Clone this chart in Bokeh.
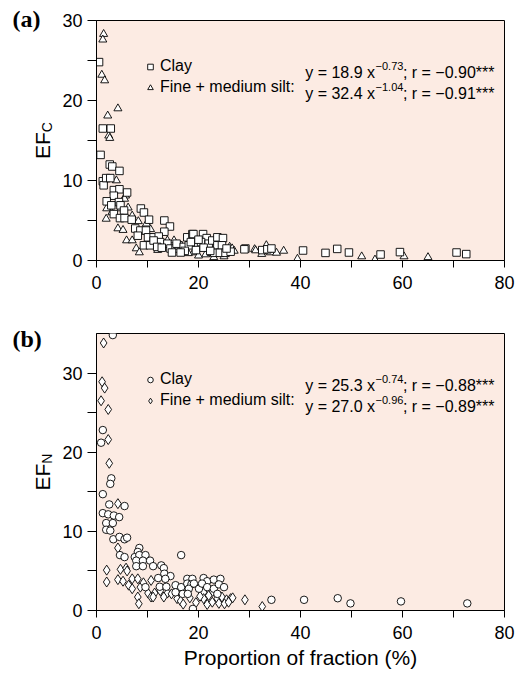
import math
from bokeh.plotting import figure
from bokeh.models import Range1d, FixedTicker, Label, Legend, LegendItem
from bokeh.layouts import column, row
from bokeh.embed import file_html
from bokeh.resources import INLINE

# ---------------- data ----------------
# Panel (a): EF_C vs proportion of fraction
a_clay_x = [0.5, 1.24, 2.8, 0.8, 2.6, 3.1, 4.5, 1.24, 1.4, 1.9, 2.7, 3.4, 4.5, 3.4, 6.0, 2.0, 4.4, 2.9, 4.7, 5.4,
            3.4, 4.6, 5.5, 6.9, 8.7, 9.3, 10.3, 7.6, 8.6, 9.7, 8.1, 10.1, 11.2, 13.3, 14.4, 13.3, 12.2, 12.5, 9.3, 10.5,
            11.2, 11.9, 13.9, 14.5, 15.5, 16.1, 15.7, 17.8, 18.8, 17.1, 18.1, 17.3, 19.0, 19.9, 20.9, 21.6, 20.5, 22.0, 22.7, 23.7,
            24.8, 23.7, 24.6, 23.1, 24.2, 25.3, 26.3, 29.2, 29.0, 32.5, 33.5, 34.3, 40.5, 44.9, 47.2, 49.5, 55.7, 59.5, 70.6, 72.5,
            19.5, 21.0, 16.5, 18.5, 25.5, 22.3, 20.0, 14.8, 12.8]
a_clay_y = [24.8, 16.5, 16.5, 13.2, 12.0, 11.75, 11.2, 9.9, 9.4, 10.3, 10.3, 8.8, 8.9, 8.1, 8.5, 7.4, 7.3, 6.9, 6.9, 6.25,
            5.8, 5.3, 5.3, 5.1, 6.5, 6.0, 5.1, 4.0, 3.75, 3.75, 3.1, 2.9, 2.9, 5.0, 4.25, 3.6, 3.0, 2.3, 1.9, 1.9,
            2.5, 1.7, 2.1, 1.5, 1.5, 1.9, 2.1, 2.9, 3.3, 1.7, 1.9, 1.2, 3.3, 1.9, 3.3, 2.8, 2.3, 2.1, 2.5, 2.9,
            2.8, 1.9, 1.9, 0.96, 0.96, 0.96, 1.1, 1.5, 1.4, 1.3, 1.4, 1.5, 1.25, 0.95, 1.45, 1.0, 0.75, 1.05, 1.0, 0.8,
            1.3, 1.6, 1.0, 2.3, 1.5, 1.2, 2.6, 1.0, 1.6]
a_silt_x = [1.4, 1.24, 1.04, 1.6, 4.2, 2.2, 2.4, 2.6, 3.9, 5.7, 5.5, 2.0, 1.9, 7.0, 8.2, 4.2, 5.2, 10.6, 5.9, 7.0,
            7.8, 8.4, 13.9, 15.2, 21.4, 22.5, 26.1, 26.6, 31.0, 31.2, 33.3, 32.4, 34.1, 35.3, 36.7, 39.4, 52.0, 54.6, 60.3, 65.0,
            4.8, 6.2, 3.0, 9.8, 11.5, 12.0, 16.8, 19.0, 20.0, 24.0, 25.0, 23.0, 27.0, 18.0]
a_silt_y = [28.3, 27.6, 23.2, 22.5, 19.0, 18.1, 15.6, 15.3, 10.0, 8.1, 7.7, 6.5, 5.2, 5.6, 4.9, 4.0, 3.8, 3.9, 2.5, 2.5,
            1.5, 1.0, 2.5, 2.5, 0.75, 0.9, 1.7, 1.5, 1.4, 1.25, 1.9, 0.8, 1.0, 0.95, 1.2, 0.2, 0.5, 0.1, 0.5, 0.4,
            6.5, 6.6, 6.0, 4.6, 2.1, 1.3, 1.3, 1.0, 0.6, 1.3, 0.5, 0.4, 1.2, 0.9]

# Panel (b): EF_N vs proportion of fraction
b_clay_x = [3.2, 1.24, 0.9, 2.9, 2.7, 1.24, 2.5, 5.5, 1.24, 2.3, 3.4, 4.45, 1.9, 3.2, 1.9, 2.7, 3.3, 4.5, 5.5, 6.0,
            4.6, 5.5, 8.4, 8.1, 7.5, 8.4, 9.6, 7.8, 9.1, 10.5, 11.1, 7.8, 9.1, 9.6, 12.1, 12.7, 13.2, 13.3, 14.5, 13.5,
            12.4, 13.7, 15.5, 15.5, 16.6, 16.6, 16.9, 17.8, 18.8, 17.8, 18.6, 18.1, 17.9, 18.9, 19.1, 20.1, 21.0, 21.7, 20.7, 21.7,
            23.0, 24.3, 23.0, 24.0, 25.0, 23.7, 34.3, 40.7, 47.3, 49.8, 59.7, 72.7]
b_clay_y = [34.8, 22.8, 21.2, 16.7, 16.0, 14.7, 13.4, 13.2, 12.3, 12.15, 12.0, 11.8, 11.05, 11.05, 10.2, 10.1, 9.0, 9.3, 9.0, 9.2,
            7.0, 6.75, 7.9, 7.4, 6.75, 7.0, 7.0, 6.3, 6.3, 6.3, 5.6, 5.6, 5.6, 2.95, 4.1, 5.7, 5.35, 4.65, 4.35, 4.0,
            3.0, 3.0, 3.2, 2.3, 7.0, 2.95, 2.1, 4.0, 4.0, 3.4, 3.3, 2.75, 2.1, 0.2, 3.4, 2.75, 4.1, 3.7, 3.4, 2.95,
            3.9, 4.0, 2.75, 3.3, 2.95, 2.1, 1.35, 1.35, 1.55, 0.9, 1.15, 0.9]
b_silt_x = [1.4, 1.1, 1.6, 0.9, 2.3, 2.3, 2.5, 4.2, 4.2, 2.0, 4.7, 5.8, 2.0, 4.2, 5.2, 7.0, 6.3, 7.0, 8.1, 8.6,
            9.2, 8.1, 8.3, 10.1, 10.7, 10.7, 11.4, 11.1, 12.5, 13.9, 13.2, 14.7, 15.8, 18.3, 21.0, 22.0, 21.0, 21.7, 22.7, 23.7,
            24.6, 25.5, 26.3, 24.0, 25.1, 25.9, 26.7, 29.1, 32.5, 6.0, 16.5, 19.5, 20.3, 22.8, 17.0]
b_silt_y = [33.8, 28.9, 28.1, 26.5, 25.4, 21.6, 18.6, 13.5, 7.9, 5.1, 5.2, 5.35, 3.6, 3.9, 3.7, 4.0, 3.2, 2.75, 4.0, 2.95,
            3.5, 1.7, 0.85, 2.2, 1.7, 3.8, 2.2, 1.7, 2.5, 2.2, 1.7, 2.1, 1.5, 1.6, 2.3, 1.9, 1.5, 0.76, 1.05, 1.5,
            1.7, 1.35, 1.5, 0.9, 0.85, 1.05, 1.6, 1.35, 0.5, 5.0, 1.2, 1.0, 1.8, 2.4, 0.8]

x_ticks = [0, 20, 40, 60, 80]
x_minor = [10, 30, 50, 70]
y_ticks = [0, 10, 20, 30]
y_minor = [5, 15, 25]

series_names = ["Clay", "Fine + medium silt:"]
eq_a = [("y = 18.9 x", "\u22120.73", "; r = \u22120.90", "***"),
        ("y = 32.4 x", "\u22121.04", "; r = \u22120.91", "***")]
eq_b = [("y = 25.3 x", "\u22120.74", "; r = \u22120.88", "***"),
        ("y = 27.0 x", "\u22120.96", "; r = \u22120.89", "***")]

# ---------------- styling ----------------
FONT = "Liberation Sans"
SERIF = "Liberation Serif"
BG = "#fcebe3"
LEFT, RIGHT_X = 96, 504      # frame edges on the page
SIDE_W = 58                  # width of the side strip holding panel letters and y titles
W_TOTAL = 525
H_TOTAL = 675

# Arial / Liberation Sans advance widths (per 1000 em)
ADV = {" ": 278, "=": 584, ".": 278, ";": 278, ",": 278, "*": 389, "x": 500, "y": 500, "r": 333,
       "\u2212": 584, "E": 667, "F": 611, "C": 722, "N": 722}


def tw(s, size):
    return sum(ADV.get(c, 556) for c in s) * size / 1000.0


def make_label(x_rel, y_rel, text, size, font=FONT, style="normal", align="left",
               baseline="alphabetic", angle=0.0):
    return Label(x=x_rel, y=y_rel, x_units="screen", y_units="screen",
                 text=text, text_font=font, text_font_size=f"{size}px", text_font_style=style,
                 text_align=align, text_baseline=baseline, angle=angle, text_color="black")


def make_panel(height, top, bottom_border, ymax, frame_bottom_page, frame_top_page,
               xs1, ys1, m1, s1, xs2, ys2, m2, s2, eqs, show_xlabel):
    p = figure(width=W_TOTAL - SIDE_W, height=height, output_backend="svg", toolbar_location=None,
               x_range=Range1d(0, 80), y_range=Range1d(0, ymax),
               min_border_left=LEFT - SIDE_W, min_border_right=W_TOTAL - RIGHT_X,
               min_border_top=top, min_border_bottom=bottom_border)
    p.background_fill_color = BG
    p.border_fill_color = "white"
    p.outline_line_color = "black"
    p.outline_line_width = 1
    p.grid.visible = False

    p.xaxis.ticker = FixedTicker(ticks=x_ticks, minor_ticks=x_minor)
    p.yaxis.ticker = FixedTicker(ticks=y_ticks, minor_ticks=y_minor)
    for ax, tl in ((p.xaxis, 7), (p.yaxis, 9)):
        ax.major_tick_out = tl
        ax.major_tick_in = 0
        ax.minor_tick_out = tl
        ax.minor_tick_in = 0
        ax.major_tick_line_color = "black"
        ax.minor_tick_line_color = "black"
        ax.axis_line_color = "black"
        ax.major_label_text_font = FONT
        ax.major_label_text_font_size = "18px"
        ax.major_label_text_color = "black"
    p.xaxis.major_label_standoff = 8
    p.yaxis.major_label_standoff = 5
    if show_xlabel:
        p.xaxis.axis_label = "Proportion of fraction (%)"
        p.xaxis.axis_label_text_font = FONT
        p.xaxis.axis_label_text_font_size = "21px"
        p.xaxis.axis_label_text_font_style = "normal"
        p.xaxis.axis_label_text_color = "black"
        p.xaxis.axis_label_standoff = 4

    r2 = p.scatter(xs2, ys2, marker=m2, size=s2, fill_color="white", line_color="black", line_width=0.9)
    r1 = p.scatter(xs1, ys1, marker=m1, size=s1, fill_color="white", line_color="black", line_width=0.9)

    # legend (rows centred at frame_top + 46 and +67)
    row1 = frame_top_page + 46
    leg_top = row1 - 10.5
    legend = Legend(items=[LegendItem(label=series_names[0], renderers=[r1]),
                           LegendItem(label=series_names[1], renderers=[r2])],
                    location=(143 - LEFT, frame_bottom_page - (leg_top + 42)),
                    orientation="vertical", padding=0, margin=0, spacing=0,
                    glyph_width=14, glyph_height=21, label_height=21, label_standoff=3,
                    label_text_font=FONT, label_text_font_size="16px", label_text_color="black",
                    background_fill_alpha=0, border_line_alpha=0)
    p.add_layout(legend)

    def lab(x_page, y_page, text, size):
        p.add_layout(make_label(x_page - LEFT, frame_bottom_page - y_page, text, size))

    # equations, right-aligned at x = 494
    for i, (a, s, b, t) in enumerate(eqs):
        base = row1 + 21 * i + 6
        right = 494
        xt = right - tw(t, 16)
        xb = xt - tw(b, 16)
        xs = xb - tw(s, 11)
        xa = xs - tw(a, 16)
        lab(xa, base, a, 16)
        lab(xs + 0.5, base - 7, s, 11)
        lab(xb, base, b, 16)
        lab(xt, base, t, 16)
    return p


pa = make_panel(300, 20, 40, 30, 260, 20,
                a_clay_x, a_clay_y, "square", 7.5, a_silt_x, a_silt_y, "triangle", 8,
                eq_a, False)
pb = make_panel(375, 33, 65, 35, 610, 333,
                b_clay_x, b_clay_y, "circle", 7.5, b_silt_x, b_silt_y, "diamond", 10,
                eq_b, True)

# side strip: panel letters and rotated y-axis titles with subscripts
side = figure(width=SIDE_W, height=H_TOTAL, output_backend="svg", toolbar_location=None,
              x_range=Range1d(0, 1), y_range=Range1d(0, 1),
              x_axis_location=None, y_axis_location=None,
              min_border_left=0, min_border_right=0, min_border_top=0, min_border_bottom=0)
side.outline_line_color = None
side.grid.visible = False
side.background_fill_color = "white"
side.border_fill_color = "white"


def side_lab(x_page, y_page, text, size, **kw):
    side.add_layout(make_label(x_page, H_TOTAL - y_page, text, size, **kw))


side_lab(12, 18, "(a)", 24, font=SERIF, style="bold", baseline="middle")
side_lab(12, 338, "(b)", 24, font=SERIF, style="bold", baseline="middle")
for (yt, yb, sub) in ((20, 260, "C"), (333, 610, "N")):
    yc = (yt + yb) / 2
    wtot = tw("EF", 21) + tw(sub, 14)
    y0 = yc + wtot / 2
    side_lab(42, y0, "EF", 21, angle=math.pi / 2)
    side_lab(46.5, y0 - tw("EF", 21), sub, 14, angle=math.pi / 2)

layout = row(side, column(pa, pb, spacing=0), spacing=0)
open("out.html", "w").write(file_html(layout, INLINE))
